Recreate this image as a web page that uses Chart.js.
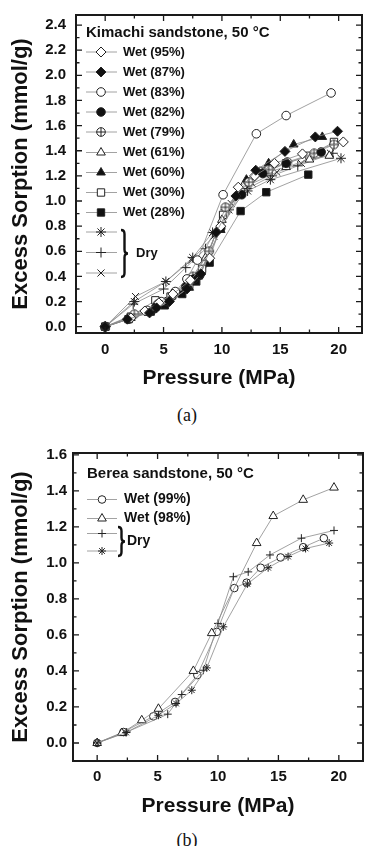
<!DOCTYPE html>
<html>
<head>
<meta charset="utf-8">
<title>Excess sorption</title>
<script src="https://cdn.jsdelivr.net/npm/chart.js@4.4.1/dist/chart.umd.min.js"></script>
<style>
  html, body { margin: 0; padding: 0; background: #fff; }
  #page { position: relative; width: 366px; height: 846px; overflow: hidden; }
  canvas { position: absolute; left: 0; width: 366px; height: 400px; }
  #chartA { top: 0; }
  #chartB { top: 430px; }
  .cap { position: absolute; left: 4px; width: 366px; text-align: center; font: 18px "Liberation Serif", "DejaVu Serif", serif; color: #111; line-height: 20px; }
</style>
</head>
<body>
<div id="page">
  <canvas id="chartA" width="366" height="400"></canvas>
  <div class="cap" style="top:405px">(a)</div>
  <canvas id="chartB" width="366" height="400"></canvas>
  <div class="cap" style="top:830px">(b)</div>
</div>
<script>
var FONT = '"Liberation Sans", Arial, sans-serif';

// axis ticks
var pressureTicks = [0, 5, 10, 15, 20];
var pressureMinor = [2.5, 7.5, 12.5, 17.5];
var kimachiTicks = [0, 0.2, 0.4, 0.6, 0.8, 1.0, 1.2, 1.4, 1.6, 1.8, 2.0, 2.2, 2.4];
var kimachiMinor = [0.1, 0.3, 0.5, 0.7, 0.9, 1.1, 1.3, 1.5, 1.7, 1.9, 2.1, 2.3];
var bereaTicks = [0, 0.2, 0.4, 0.6, 0.8, 1.0, 1.2, 1.4, 1.6];
var bereaMinor = [-0.1, 0.1, 0.3, 0.5, 0.7, 0.9, 1.1, 1.3, 1.5];

// (a) Kimachi sandstone, 50 °C  -- pressure (MPa) / excess sorption (mmol/g)
var wet95P = [0, 2.2, 3.4, 4.6, 5.8, 7.3, 8.95, 9.9, 11.4, 12.8, 14.5, 16.9, 20.4];
var wet95S = [0, 0.07, 0.125, 0.19, 0.26, 0.37, 0.545, 0.8, 1.11, 1.2, 1.3, 1.375, 1.47];
var wet87P = [0, 1.9, 3.8, 4.4, 5.5, 7.0, 8.2, 9.5, 11.2, 12.9, 15.4, 18.0, 19.9];
var wet87S = [0, 0.06, 0.11, 0.15, 0.2, 0.3, 0.42, 0.75, 1.04, 1.245, 1.395, 1.51, 1.555];
var wet83P = [0, 2.1, 3.6, 4.8, 6.0, 7.0, 7.9, 10.1, 12.95, 15.5, 19.35];
var wet83S = [0, 0.07, 0.13, 0.2, 0.28, 0.38, 0.53, 1.05, 1.535, 1.68, 1.86];
var wet82P = [0, 2.0, 3.7, 4.4, 5.3, 6.9, 7.6, 8.1, 9.9, 11.7, 13.5, 15.5, 18.5];
var wet82S = [0, 0.06, 0.12, 0.16, 0.2, 0.32, 0.38, 0.41, 0.785, 1.05, 1.22, 1.3, 1.39];
var wet79P = [0, 2.5, 4.5, 6.0, 7.5, 8.9, 10.3, 12.3, 14.0, 15.6, 17.9, 19.6];
var wet79S = [0, 0.1, 0.18, 0.27, 0.4, 0.6, 0.95, 1.15, 1.25, 1.31, 1.38, 1.45];
var wet61P = [0, 2.2, 4.2, 5.7, 7.3, 8.6, 10.0, 11.8, 13.5, 15.5, 17.5, 19.2];
var wet61S = [0, 0.07, 0.15, 0.24, 0.36, 0.55, 0.85, 1.12, 1.22, 1.27, 1.33, 1.36];
var wet60P = [0, 2.0, 4.0, 5.2, 7.2, 8.0, 9.9, 12.1, 14.0, 16.15, 18.6];
var wet60S = [0, 0.06, 0.13, 0.19, 0.31, 0.4, 0.77, 1.17, 1.3, 1.45, 1.51];
var wet30P = [0, 2.2, 4.3, 5.6, 7.2, 8.3, 10.1, 11.6, 13.5, 15.5, 17.5, 19.6];
var wet30S = [0, 0.08, 0.21, 0.24, 0.33, 0.46, 0.89, 1.1, 1.24, 1.3, 1.36, 1.47];
var wet28P = [0, 2.0, 3.9, 5.1, 6.6, 7.8, 8.95, 11.6, 13.8, 17.4];
var wet28S = [0, 0.06, 0.12, 0.17, 0.26, 0.36, 0.51, 0.92, 1.07, 1.21];
var dryStarP = [0, 2.5, 5.2, 7.5, 9.2, 10.6, 12.2, 14.15, 20.2];
var dryStarS = [0, 0.2, 0.36, 0.55, 0.75, 0.93, 1.08, 1.17, 1.34];
var dryPlusP = [0, 2.4, 5.0, 6.9, 8.6, 10.3, 12.2, 14.3, 16.5, 19.5];
var dryPlusS = [0, 0.18, 0.3, 0.47, 0.62, 0.93, 1.1, 1.2, 1.28, 1.38];
var dryCrossP = [0, 2.6, 5.2, 7.4, 9.3, 10.8, 12.6, 14.7, 16.8, 19.3];
var dryCrossS = [0, 0.24, 0.36, 0.53, 0.72, 0.98, 1.14, 1.23, 1.3, 1.38];

// (b) Berea sandstone, 50 °C
var wet99P = [0, 2.17, 4.65, 6.45, 8.29, 9.9, 11.35, 12.37, 13.53, 15.18, 17.05, 18.76];
var wet99S = [0, 0.061, 0.148, 0.228, 0.377, 0.617, 0.86, 0.89, 0.973, 1.03, 1.087, 1.137];
var wet98P = [0, 2.04, 3.69, 5.07, 7.96, 9.48, 13.2, 14.57, 17.05, 19.6];
var wet98S = [0, 0.055, 0.126, 0.19, 0.40, 0.61, 1.11, 1.26, 1.35, 1.418];
var bDryPlusP = [0, 2.45, 5.84, 7.0, 8.79, 10.0, 11.27, 12.5, 14.3, 16.9, 19.6];
var bDryPlusS = [0, 0.061, 0.16, 0.269, 0.404, 0.664, 0.923, 0.95, 1.044, 1.137, 1.18];
var bDryStarP = [0, 2.4, 5.07, 6.53, 7.83, 9.07, 10.44, 12.43, 14.15, 15.8, 17.25, 19.2];
var bDryStarS = [0, 0.058, 0.154, 0.219, 0.293, 0.417, 0.645, 0.883, 0.973, 1.035, 1.08, 1.11];


function crossedCircle(r) {
  var s = Math.ceil(2 * r + 3);
  var c = document.createElement('canvas');
  c.width = s; c.height = s;
  var g = c.getContext('2d');
  var m = s / 2;
  g.fillStyle = '#fff'; g.strokeStyle = '#222'; g.lineWidth = 1;
  g.beginPath(); g.arc(m, m, r, 0, 2 * Math.PI); g.fill(); g.stroke();
  g.beginPath();
  g.moveTo(m - r, m); g.lineTo(m + r, m);
  g.moveTo(m, m - r); g.lineTo(m, m + r);
  g.stroke();
  return c;
}

function series(label, P, S, style, radius, filled, order) {
  return {
    label: label,
    data: P.map(function (p, i) { return {x: p, y: S[i]}; }),
    order: order || 0,
    showLine: true,
    borderColor: '#8a8a8a',
    borderWidth: 0.8,
    pointStyle: style,
    pointRadius: radius,
    pointHoverRadius: radius,
    pointBackgroundColor: filled ? '#111' : '#fff',
    pointBorderColor: '#222',
    pointBorderWidth: 1
  };
}

function brace(ctx, x, y0, y1, w) {
  var h = w / 2, m = (y0 + y1) / 2;
  ctx.beginPath();
  ctx.moveTo(x, y0);
  ctx.quadraticCurveTo(x + h, y0, x + h, y0 + 4);
  ctx.lineTo(x + h, m - 4);
  ctx.quadraticCurveTo(x + h, m, x + w, m);
  ctx.quadraticCurveTo(x + h, m, x + h, m + 4);
  ctx.lineTo(x + h, y1 - 4);
  ctx.quadraticCurveTo(x + h, y1, x, y1);
  ctx.stroke();
}

// legend drawn inside the plot area
function makeLegend(o) {
  return {
    id: 'insideLegend',
    afterDraw: function (chart) {
      var ctx = chart.ctx;
      var sets = chart.data.datasets;
      ctx.save();
      ctx.textBaseline = 'middle';
      ctx.textAlign = 'left';
      ctx.fillStyle = '#111';
      ctx.font = 'bold ' + o.titleSize + 'px ' + FONT;
      ctx.fillText(o.title, o.x0, o.titleY);
      ctx.font = 'bold ' + o.size + 'px ' + FONT;
      sets.forEach(function (ds, i) {
        var y = o.rows[i];
        ctx.strokeStyle = '#8a8a8a';
        ctx.lineWidth = 0.8;
        ctx.beginPath(); ctx.moveTo(o.x0, y); ctx.lineTo(o.x1, y); ctx.stroke();
        ctx.fillStyle = ds.pointBackgroundColor;
        ctx.strokeStyle = ds.pointBorderColor;
        ctx.lineWidth = ds.pointBorderWidth;
        Chart.helpers.drawPoint(ctx, {pointStyle: ds.pointStyle, radius: ds.pointRadius, rotation: 0, borderWidth: ds.pointBorderWidth}, o.mx, y);
        if (ds.label !== 'Dry') {
          ctx.fillStyle = '#111';
          ctx.fillText(ds.label, o.tx, y);
        }
      });
      ctx.strokeStyle = '#111';
      ctx.lineWidth = 2.4;
      brace(ctx, o.braceX, o.braceTop, o.braceBottom, 7);
      ctx.fillStyle = '#111';
      ctx.fillText('Dry', o.dryX, (o.braceTop + o.braceBottom) / 2);
      ctx.restore();
    }
  };
}

// box frame with inward ticks on all four sides
function makeFrame(xMajor, xMinor, yMajor, yMinor) {
  return {
    id: 'frame',
    afterDraw: function (chart) {
      var ctx = chart.ctx, a = chart.chartArea;
      var sx = chart.scales.x, sy = chart.scales.y;
      ctx.save();
      ctx.strokeStyle = '#1a1a1a';
      ctx.lineWidth = 1.3;
      ctx.beginPath();
      function vt(v, len) {
        var px = sx.getPixelForValue(v);
        ctx.moveTo(px, a.bottom); ctx.lineTo(px, a.bottom - len);
        ctx.moveTo(px, a.top); ctx.lineTo(px, a.top + len);
      }
      function ht(v, len) {
        var py = sy.getPixelForValue(v);
        if (py < a.top || py > a.bottom) return;
        ctx.moveTo(a.left, py); ctx.lineTo(a.left + len, py);
        ctx.moveTo(a.right, py); ctx.lineTo(a.right - len, py);
      }
      xMajor.forEach(function (v) { vt(v, 6); });
      xMinor.forEach(function (v) { vt(v, 3.5); });
      yMajor.forEach(function (v) { ht(v, 6); });
      yMinor.forEach(function (v) { ht(v, 3.5); });
      ctx.stroke();
      ctx.lineWidth = 2;
      ctx.strokeRect(a.left, a.top, a.right - a.left, a.bottom - a.top);
      ctx.restore();
    }
  };
}

function xAxis(min, max, height, tickPad, titlePad) {
  return {
    type: 'linear', min: min, max: max,
    grid: {display: false, drawTicks: false},
    border: {display: false},
    afterBuildTicks: function (s) { s.ticks = pressureTicks.map(function (v) { return {value: v}; }); },
    afterFit: function (s) { s.height = height; s.paddingLeft = 0; s.paddingRight = 0; },
    ticks: {padding: tickPad, color: '#111', maxRotation: 0, autoSkip: false,
            font: {family: FONT, size: 15, weight: 'bold'}},
    title: {display: true, text: 'Pressure (MPa)', color: '#111',
            font: {family: FONT, size: 21, weight: 'bold'}, padding: {top: 0, bottom: titlePad}}
  };
}

function yAxis(min, max, ticks, width, tickPad) {
  return {
    type: 'linear', min: min, max: max,
    grid: {display: false, drawTicks: false},
    border: {display: false},
    afterBuildTicks: function (s) { s.ticks = ticks.map(function (v) { return {value: v}; }); },
    afterFit: function (s) { s.width = width; s.paddingTop = 0; s.paddingBottom = 0; },
    ticks: {padding: tickPad, color: '#111', autoSkip: false,
            font: {family: FONT, size: 15, weight: 'bold'},
            callback: function (v) { return Number(v).toFixed(1); }},
    title: {display: true, text: 'Excess Sorption (mmol/g)', color: '#111',
            font: {family: FONT, size: 22, weight: 'bold'}, padding: {top: 8, bottom: 0}}
  };
}

var circA = crossedCircle(4.3);

new Chart(document.getElementById('chartA'), {
  type: 'scatter',
  data: {
    datasets: [
      series('Wet (95%)', wet95P, wet95S, 'rectRot', 5, false),
      series('Wet (87%)', wet87P, wet87S, 'rectRot', 5, true, -1),
      series('Wet (83%)', wet83P, wet83S, 'circle', 4.3, false),
      series('Wet (82%)', wet82P, wet82S, 'circle', 4.3, true),
      series('Wet (79%)', wet79P, wet79S, circA, 4.3, false),
      series('Wet (61%)', wet61P, wet61S, 'triangle', 5, false),
      series('Wet (60%)', wet60P, wet60S, 'triangle', 5, true),
      series('Wet (30%)', wet30P, wet30S, 'rect', 5.2, false),
      series('Wet (28%)', wet28P, wet28S, 'rect', 5.2, true),
      series('Dry', dryStarP, dryStarS, 'star', 5, false),
      series('Dry', dryPlusP, dryPlusS, 'cross', 5, false),
      series('Dry', dryCrossP, dryCrossS, 'crossRot', 5, false)
    ]
  },
  options: {
    responsive: false,
    animation: false,
    layout: {autoPadding: false, padding: {left: 0, top: 15, right: 4, bottom: 0}},
    plugins: {legend: {display: false}, tooltip: {enabled: false}},
    scales: {
      x: xAxis(-2.5, 22, 67, 8, 9.4),
      y: yAxis(-0.05, 2.48, kimachiTicks, 76, 10)
    }
  },
  plugins: [
    makeFrame(pressureTicks, pressureMinor, kimachiTicks, kimachiMinor),
    makeLegend({
      title: 'Kimachi sandstone, 50 \u00B0C', titleSize: 15, titleY: 33, size: 13,
      x0: 86, x1: 117, mx: 101, tx: 123,
      rows: [52, 72, 92, 112, 132, 152.5, 172.5, 192.5, 212.5, 232, 252.5, 273],
      braceX: 121, braceTop: 230, braceBottom: 277, dryX: 136
    })
  ]
});

new Chart(document.getElementById('chartB'), {
  type: 'scatter',
  data: {
    datasets: [
      series('Wet (99%)', wet99P, wet99S, 'circle', 3.8, false, 1),
      series('Wet (98%)', wet98P, wet98S, 'triangle', 5, false),
      series('Dry', bDryPlusP, bDryPlusS, 'cross', 4, false),
      series('Dry', bDryStarP, bDryStarS, 'star', 4, false, -1)
    ]
  },
  options: {
    responsive: false,
    animation: false,
    layout: {autoPadding: false, padding: {left: 0, top: 23, right: 3, bottom: 0}},
    plugins: {legend: {display: false}, tooltip: {enabled: false}},
    scales: {
      x: xAxis(-2, 22, 69, 7, 11.4),
      y: yAxis(-0.1, 1.61, bereaTicks, 73, 6)
    }
  },
  plugins: [
    makeFrame(pressureTicks, pressureMinor, bereaTicks, bereaMinor),
    makeLegend({
      title: 'Berea sandstone, 50 \u00B0C', titleSize: 15, titleY: 44, size: 14,
      x0: 87, x1: 117, mx: 102, tx: 124,
      rows: [69.5, 88.5, 103.5, 121],
      braceX: 118, braceTop: 97, braceBottom: 126, dryX: 127
    })
  ]
});
</script>
</body>
</html>
